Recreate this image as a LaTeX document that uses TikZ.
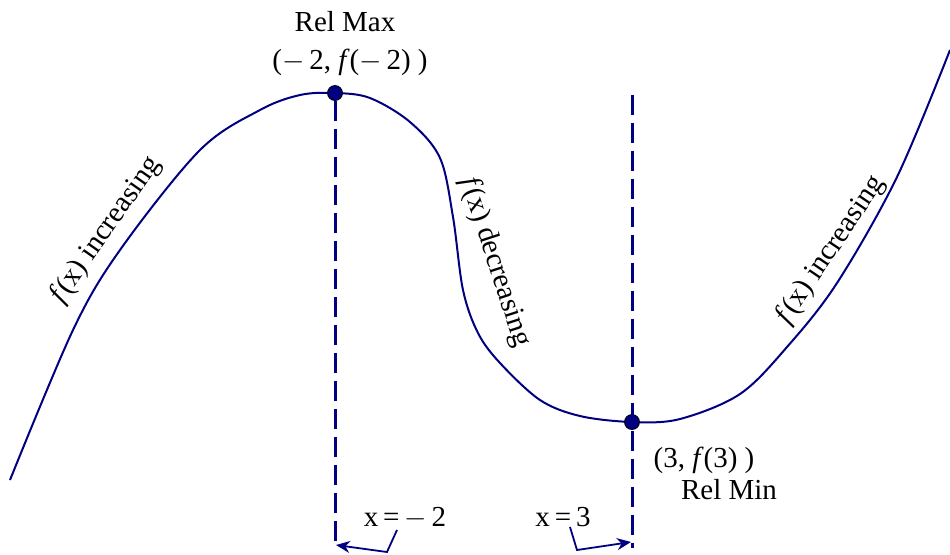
\documentclass[tikz,border=0pt]{standalone}
\usepackage{fontspec}
\setmainfont{Liberation Serif}
\usetikzlibrary{arrows.meta,positioning,calc}
\definecolor{navy}{RGB}{0,0,128}
\tikzset{
  curve/.style={navy,line width=1pt},
  guide/.style={navy,line width=1.5pt,dash pattern=on 10pt off 4pt},
  extremum/.style={circle,fill=navy,draw=black,line width=.4pt,inner sep=0pt,minimum size=7.5pt},
  lbl/.style={font=\fontsize{14.5}{16}\selectfont,inner sep=1pt},
  pointer/.style={navy,line width=.9pt,-{Stealth[length=7pt,width=6pt]}}
}
\begin{document}
\begin{tikzpicture}[x=0.5pt,y=-0.5pt]
\useasboundingbox (0,0) rectangle (950,554);
% the function
\draw[curve] plot[smooth,tension=.55] coordinates{(10,480)(73,330)(120,250)(200,150)(260,110)(300,95)(335,93)(370,98)(410,122)(440,158)(453,217)(463,290)(478,333)(500,363)(540,400)(580,416)(632,422)(680,419)(740,394)(787,347)(837,283)(897,177)(950,50)};
% extrema
\node[extremum] (max) at (335,93) {};
\node[extremum] (min) at (632,422) {};
\coordinate (maxfoot) at (335,548);
\coordinate (mintop) at (632,95);
\coordinate (minfoot) at (632,548);
\draw[guide] (max) -- (maxfoot);
\draw[guide] (mintop) -- (minfoot);
% labels
\node[lbl] (relmax) at (345,22) {Rel Max};
\node[lbl] (maxpt) at (350,62) {($-$\,2, \textit{f}($-$\,2) )};
\node[lbl] (minpt) at (704,460) {(3, \textit{f}(3) )};
\node[lbl] (relmin) at (729,490) {Rel Min};
\node[lbl,rotate=55] (inc1) at (106,230) {\textit{f}(x) increasing};
\node[lbl,rotate=-72] (dec) at (495,262) {\textit{f}(x) decreasing};
\node[lbl,rotate=56] (inc2) at (831,250) {\textit{f}(x) increasing};
% x values
\node[lbl] (xa) at (405,518) {x\,=\,$-$\,2};
\node[lbl] (xb) at (563,517) {x\,=\,3};
\coordinate (ka) at (387,552);
\coordinate (kb) at (577,550);
\coordinate (ta) at (336,545);
\coordinate (tb) at (631,542);
\draw[pointer] (397,530) -- (ka) -- (ta);
\draw[pointer] (570,527) -- (kb) -- (tb);
\end{tikzpicture}
\end{document}
